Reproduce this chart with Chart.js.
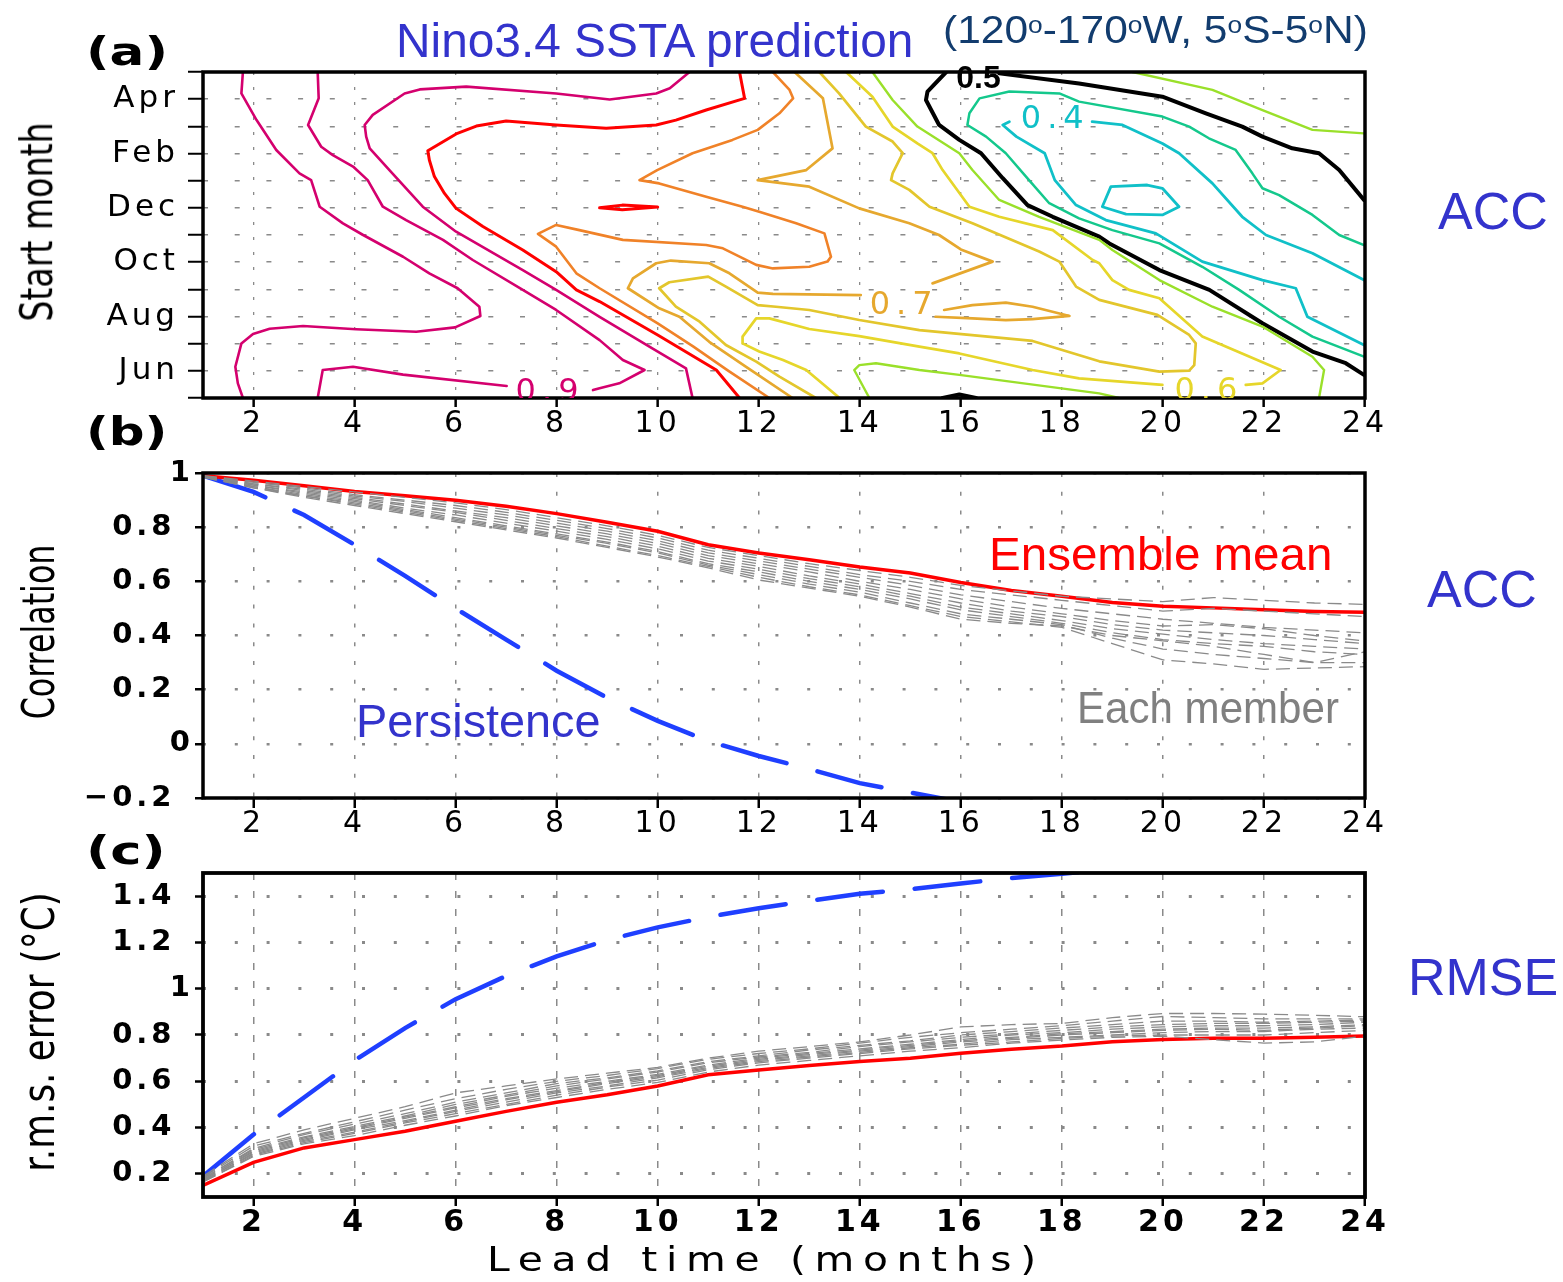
<!DOCTYPE html>
<html>
<head>
<meta charset="utf-8">
<title>Nino3.4 SSTA prediction</title>
<script src="https://cdn.jsdelivr.net/npm/chart.js@4.4.1/dist/chart.umd.min.js"></script>
<style>
html,body{margin:0;padding:0;background:#fff;}
#wrap{position:relative;width:1563px;height:1282px;overflow:hidden;background:#fff;}
#wrap canvas{position:absolute;left:0;}
.t{position:absolute;white-space:nowrap;line-height:1;margin:0;}
.lib{font-family:"Liberation Sans",Arial,sans-serif;}
.dv{font-family:"DejaVu Sans",sans-serif;}
.h{transform-origin:0 0;}
.r{transform-origin:50% 50%;}
.sup{font-size:0.62em;vertical-align:0.42em;line-height:0;}
</style>
</head>
<body>
<div id="wrap">
  <canvas id="cA" width="1563" height="450" style="top:0"></canvas>
  <canvas id="cB" width="1563" height="400" style="top:450px"></canvas>
  <canvas id="cC" width="1563" height="432" style="top:850px"></canvas>

  <div class="t dv h" data-w="82" style="left:86px;top:32px;font-size:39px;font-weight:bold;">(a)</div>
  <div class="t dv h" data-w="82" style="left:86px;top:412px;font-size:39px;font-weight:bold;">(b)</div>
  <div class="t dv h" data-w="80" style="left:86px;top:831px;font-size:39px;font-weight:bold;">(c)</div>

  <div class="t lib h" data-w="517" style="left:396px;top:17px;font-size:48px;color:#3333cc;">Nino3.4 SSTA prediction</div>
  <div class="t lib h" data-w="425" style="left:943px;top:10px;font-size:39px;color:#123c6e;">(120<span class="sup">o</span>-170<span class="sup">o</span>W, 5<span class="sup">o</span>S-5<span class="sup">o</span>N)</div>

  <div class="t lib h" data-w="110" style="left:1438px;top:185px;font-size:52px;color:#3333cc;">ACC</div>
  <div class="t lib h" data-w="110" style="left:1427px;top:563px;font-size:52px;color:#3333cc;">ACC</div>
  <div class="t lib h" data-w="150" style="left:1408px;top:951px;font-size:52px;color:#3333cc;">RMSE</div>

  <div class="t lib h" data-w="343" style="left:989px;top:531px;font-size:46px;color:#ff0000;">Ensemble mean</div>
  <div class="t lib h" data-w="245" style="left:356px;top:697px;font-size:47px;color:#3333cc;">Persistence</div>
  <div class="t lib h" data-w="262" style="left:1077px;top:686px;font-size:44px;color:#808080;">Each member</div>

  <div class="t dv r" data-cx="37" data-cy="222" data-len="199" style="font-size:44px;color:#000;">Start month</div>
  <div class="t dv r" data-cx="39" data-cy="632" data-len="175" style="font-size:44px;color:#000;">Correlation</div>
  <div class="t dv r" data-cx="38" data-cy="1032" data-len="279" style="font-size:44px;color:#000;">r.m.s. error (°C)</div>
  <div class="t dv h" data-w="558" style="left:487px;top:1243px;font-size:33px;letter-spacing:7px;color:#000;">Lead time (months)</div>
</div>

<script>
// ---------------- axes / categories ----------------
const leads = [1,2,3,4,5,6,7,8,9,10,11,12,13,14,15,16,17,18,19,20,21,22,23,24];
const leadTicks = [2,4,6,8,10,12,14,16,18,20,22,24];
const monthNames = ['May','Jun','Jul','Aug','Sep','Oct','Nov','Dec','Jan','Feb','Mar','Apr','May'];
const monthTicks = [0,1,2,3,4,5,6,7,8,9,10,11,12];
const accTicks = [-0.2,0,0.2,0.4,0.6,0.8,1];
const rmseTicks = [0.2,0.4,0.6,0.8,1,1.2,1.4];

// ---------------- panel (b): ACC ----------------
const accEnsemble = [0.99,0.973,0.953,0.932,0.916,0.899,0.877,0.85,0.818,0.785,0.735,0.705,0.68,0.653,0.631,0.596,0.566,0.545,0.522,0.508,0.502,0.495,0.489,0.486];
const accPersistence = [0.99,0.93,0.845,0.735,0.62,0.5,0.385,0.27,0.17,0.085,0.01,-0.045,-0.093,-0.145,-0.18,-0.215,null,null,null,null,null,null,null,null];
const accMembers = [
  [0.99,0.97,0.95,0.93,0.91,0.89,0.865,0.835,0.805,0.77,0.725,0.695,0.665,0.64,0.615,0.585,0.565,0.545,0.535,0.525,0.54,0.53,0.52,0.515],
  [0.99,0.965,0.945,0.92,0.9,0.88,0.855,0.825,0.795,0.76,0.715,0.685,0.655,0.625,0.6,0.57,0.55,0.53,0.51,0.49,0.5,0.49,0.48,0.47],
  [0.988,0.96,0.94,0.915,0.895,0.87,0.845,0.815,0.785,0.75,0.705,0.675,0.645,0.615,0.585,0.55,0.525,0.5,0.48,0.46,0.445,0.43,0.42,0.41],
  [0.988,0.96,0.935,0.91,0.885,0.86,0.835,0.805,0.775,0.74,0.695,0.665,0.635,0.6,0.57,0.535,0.505,0.48,0.455,0.435,0.44,0.425,0.4,0.38],
  [0.987,0.955,0.93,0.905,0.88,0.855,0.825,0.795,0.765,0.73,0.685,0.655,0.62,0.59,0.555,0.52,0.49,0.47,0.44,0.42,0.41,0.4,0.385,0.37],
  [0.987,0.955,0.925,0.9,0.87,0.845,0.815,0.785,0.755,0.72,0.675,0.645,0.61,0.58,0.545,0.505,0.48,0.455,0.425,0.405,0.385,0.37,0.36,0.35],
  [0.986,0.95,0.92,0.895,0.865,0.835,0.805,0.775,0.745,0.71,0.665,0.635,0.6,0.57,0.535,0.495,0.47,0.445,0.41,0.385,0.37,0.36,0.34,0.33],
  [0.986,0.95,0.915,0.89,0.86,0.83,0.8,0.77,0.74,0.705,0.66,0.625,0.59,0.56,0.52,0.48,0.46,0.44,0.39,0.35,0.33,0.315,0.3,0.3],
  [0.985,0.945,0.915,0.885,0.855,0.825,0.795,0.765,0.73,0.695,0.655,0.615,0.58,0.55,0.51,0.47,0.45,0.43,0.37,0.31,0.295,0.275,0.28,0.285],
  [0.985,0.945,0.91,0.88,0.85,0.82,0.79,0.76,0.725,0.69,0.65,0.605,0.575,0.545,0.505,0.46,0.445,0.435,0.4,0.38,0.36,0.33,0.3,0.34]
];

// ---------------- panel (c): RMSE ----------------
const rmseEnsemble = [0.15,0.25,0.312,0.348,0.384,0.427,0.47,0.509,0.542,0.58,0.628,0.649,0.668,0.685,0.7,0.721,0.738,0.752,0.771,0.781,0.786,0.786,0.79,0.796];
const rmsePersistence = [0.19,0.37,0.53,0.69,0.83,0.955,1.055,1.14,1.21,1.265,1.31,1.348,1.38,1.41,1.43,1.455,1.478,1.497,1.515,null,null,null,null,null];
const rmseMembers = [
  [0.19,0.33,0.39,0.44,0.49,0.55,0.58,0.61,0.635,0.66,0.7,0.73,0.75,0.77,0.8,0.835,0.845,0.85,0.875,0.893,0.893,0.89,0.885,0.879],
  [0.185,0.32,0.375,0.425,0.475,0.525,0.565,0.6,0.625,0.655,0.695,0.72,0.74,0.765,0.79,0.81,0.825,0.84,0.86,0.88,0.875,0.87,0.87,0.87],
  [0.18,0.31,0.37,0.415,0.46,0.51,0.55,0.59,0.615,0.645,0.685,0.71,0.735,0.755,0.775,0.8,0.815,0.83,0.845,0.86,0.86,0.855,0.86,0.865],
  [0.18,0.305,0.36,0.405,0.45,0.5,0.54,0.58,0.61,0.64,0.68,0.705,0.725,0.75,0.77,0.79,0.805,0.82,0.835,0.845,0.85,0.85,0.855,0.86],
  [0.175,0.3,0.355,0.4,0.445,0.49,0.535,0.57,0.6,0.63,0.67,0.7,0.72,0.74,0.76,0.78,0.8,0.81,0.825,0.835,0.84,0.84,0.845,0.855],
  [0.175,0.295,0.35,0.395,0.44,0.485,0.525,0.56,0.595,0.625,0.665,0.695,0.715,0.735,0.755,0.775,0.79,0.805,0.815,0.825,0.83,0.83,0.835,0.845],
  [0.17,0.29,0.345,0.39,0.43,0.475,0.52,0.555,0.59,0.62,0.66,0.69,0.71,0.73,0.75,0.77,0.785,0.8,0.81,0.82,0.825,0.82,0.83,0.84],
  [0.17,0.285,0.34,0.38,0.425,0.47,0.51,0.55,0.58,0.615,0.655,0.685,0.705,0.725,0.745,0.76,0.78,0.79,0.8,0.81,0.815,0.815,0.825,0.83],
  [0.165,0.28,0.335,0.375,0.42,0.46,0.5,0.54,0.575,0.605,0.65,0.68,0.7,0.72,0.74,0.755,0.77,0.785,0.795,0.8,0.8,0.8,0.81,0.82],
  [0.165,0.275,0.33,0.365,0.41,0.45,0.495,0.53,0.565,0.595,0.64,0.67,0.69,0.71,0.73,0.745,0.765,0.778,0.79,0.795,0.78,0.765,0.77,0.795]
];

// ---------------- panel (a): ACC contours, [lead, start-month index] (0 = May ... 12 = May) ----------------
const c095 = [[1.79,12],[1.76,11.21],[2.06,10.23],[2.45,9.13],[2.91,8.27],[3.14,8.02],[3.31,7.04],[3.77,6.43],[4.17,6.0],[4.96,5.2],[5.48,4.59],[6.04,4.04],[6.47,3.36],[6.49,3.02],[5.99,2.6],[5.22,2.44],[4.03,2.53],[2.98,2.65],[2.32,2.55],[1.99,2.36],[1.76,2.01],[1.64,1.15],[1.69,0.54],[1.79,0]];
const c090a = [[3.27,12],[3.29,11.03],[3.08,10.05],[3.34,9.25],[3.57,8.94],[3.97,8.52],[4.26,8.02],[4.56,7.04],[5.02,6.55],[5.75,5.82],[6.34,5.08],[7.33,3.98],[7.99,3.24],[8.85,2.13],[9.31,1.4],[9.74,1.03],[9.24,0.54],[8.85,0.36],[8.72,0.29]];
const c090b = [[7.01,0.44],[4.96,0.86],[3.97,1.15],[3.37,1.03],[3.27,0]];
const c085 = [[10.63,12],[10.24,11.4],[9.97,11.21],[9.05,10.99],[7.99,11.21],[6.21,11.46],[5.29,11.36],[4.99,11.21],[4.36,10.42],[4.2,10.05],[4.23,9.62],[4.3,9.19],[4.69,8.39],[5.35,7.04],[6.01,6.12],[7.33,4.71],[7.99,3.98],[8.85,2.99],[9.91,1.81],[10.56,1.09],[10.69,0]];
const c080a = [[11.62,12],[11.72,11.03],[10.96,10.6],[10.36,10.23],[9.97,10.05],[8.98,9.93],[7.99,10.05],[7.0,10.2],[6.41,10.01],[6.01,9.72],[5.45,9.1],[5.48,8.76],[5.58,8.15],[5.78,7.53],[6.01,6.98],[6.54,6.31],[7.33,5.45],[7.99,4.65],[8.39,3.98],[8.85,3.55],[10.0,2.32],[11.16,1.03],[11.62,0]];
const c080b = [[8.85,7.0],[9.3,6.93],[10.0,7.03],[9.3,7.1],[8.85,7.0]];
const c075 = [[12.28,12],[12.61,11.34],[12.68,11.03],[12.41,10.48],[11.98,9.87],[11.48,9.5],[10.69,9.01],[9.99,8.39],[9.64,8.02],[10.03,7.9],[10.96,7.41],[11.68,7.04],[12.01,6.86],[12.74,6.43],[13.3,6.06],[13.43,5.2],[13.36,5.02],[13.0,4.83],[12.28,4.77],[11.95,4.9],[11.29,5.51],[10.96,5.63],[9.31,5.82],[8.45,6.18],[7.99,6.37],[7.63,6.04],[7.99,5.57],[8.39,4.59],[8.85,4.04],[10.0,2.75],[10.7,1.9],[11.4,1.0],[12.21,0]];
const c070a = [[12.71,12],[13.27,11.03],[13.46,9.19],[12.94,8.39],[11.98,8.02],[13.0,7.78],[13.99,6.98],[14.98,6.43],[15.57,6.0],[16.0,5.47],[16.63,5.02],[15.44,4.22]];
const c070b = [[14.02,3.79],[12.28,3.83],[11.98,3.88],[11.42,4.59],[11.02,4.96],[10.26,5.06],[9.97,4.96],[9.51,4.4],[9.41,4.04],[10.03,3.3],[10.43,2.99],[11.02,2.07],[11.75,1.15],[12.67,0]];
const c070c = [[15.67,3.24],[16.23,3.42],[16.89,3.51],[17.42,3.36],[18.15,3.02],[17.42,2.9],[16.89,2.87],[16.23,2.93],[15.5,2.99]];
const c065 = [[13.2,12],[13.59,11.21],[14.12,9.99],[14.65,9.44],[14.85,9.01],[14.65,8.27],[14.62,8.02],[14.98,7.66],[15.38,7.04],[16.23,6.43],[17.55,5.39],[17.95,5.02],[18.28,4.1],[18.74,3.61],[19.89,3.06],[20.52,2.32],[20.65,2.01],[20.62,1.21],[20.52,1.01],[19.93,0.97],[18.74,1.35],[17.42,2.1],[15.18,2.5],[13.99,2.87],[13.0,3.24],[12.34,3.36],[11.98,3.42],[11.35,4.1],[11.0,4.47],[10.23,4.26],[10.03,4.04],[10.36,3.36],[10.83,2.81],[11.35,1.95],[11.95,1.34],[12.41,0.79],[13.13,0]];
const c060a = [[13.73,12],[14.25,11.09],[14.65,9.99],[15.14,9.37],[15.44,9.01],[15.64,8.39],[16.17,7.04],[16.76,6.67],[17.82,6.18],[18.61,5.08],[18.74,4.96],[19.0,4.34],[19.33,3.98],[19.93,3.67],[20.78,2.26],[22.33,1.03],[21.97,0.54],[21.64,0.48]];
const c060b = [[19.99,0.48],[18.34,0.72],[17.42,1.03],[15.97,1.64],[15.18,1.89],[13.99,2.28],[13.0,2.54],[12.21,2.93],[11.95,2.93],[11.68,2.26],[11.68,2.01],[12.01,1.71],[12.48,1.4],[12.94,1.03],[13.6,0]];
const c055a = [[14.25,12],[14.65,10.97],[15.14,9.99],[15.97,9.01],[16.23,8.39],[16.76,7.29],[17.55,6.67],[18.74,5.82],[19.0,5.45],[19.93,4.34],[20.98,3.36],[21.97,2.63],[22.96,1.52],[23.19,1.03],[23.09,0]];
const c055b = [[19.4,12],[20.98,11.34],[21.97,10.6],[22.96,9.87],[23.98,9.74]];
const c055c = [[14.19,0],[13.89,1.03],[13.99,1.21],[14.32,1.28],[15.18,1.03],[15.97,0.85],[18.74,0.17],[19.13,0]];
const c050a = [[23.98,7.29],[23.49,8.39],[23.09,9.01],[22.56,9.19],[21.97,9.62],[21.57,9.99],[20.85,10.48],[19.99,11.09],[18.34,11.58],[16.76,11.95]];
const c050b = [[15.71,12],[15.34,11.28],[15.31,10.97],[15.57,10.05],[15.97,9.5],[16.4,9.01],[16.83,8.09],[17.32,7.1],[17.82,6.67],[18.74,5.94],[18.94,5.69],[19.93,4.71],[20.92,3.98],[21.97,2.75],[22.96,1.71],[23.62,1.28],[23.98,0.85]];
const c050c = [[15.64,0],[15.97,0.13],[16.3,0]];
const c045 = [[23.98,5.63],[23.49,6.0],[22.96,6.74],[22.3,7.47],[21.97,7.72],[21.77,8.27],[21.44,9.13],[20.91,9.56],[20.52,9.99],[19.99,10.36],[18.34,10.91],[17.95,11.21],[16.96,11.28],[16.37,11.03],[16.17,10.48],[16.13,10.05],[16.5,9.62],[16.89,9.01],[17.35,8.02],[17.75,7.17],[18.34,6.61],[19.0,6.18],[19.93,5.69],[20.78,4.83],[21.51,3.98],[22.3,2.99],[22.96,2.26],[23.98,1.52]];
const c040a = [[23.98,4.34],[22.96,5.33],[22.04,6.0],[21.57,6.67],[20.98,7.9],[20.32,9.01],[19.99,9.37],[19.2,10.05],[18.6,10.17]];
const c040b = [[16.96,10.17],[16.83,10.05],[17.1,9.62],[17.66,9.01],[17.86,8.02],[18.28,7.1],[18.87,6.55],[19.86,6.06],[20.78,5.02],[21.97,4.34],[22.63,4.04],[22.86,2.99],[23.98,1.95]];
const c040c = [[18.97,7.78],[19.69,7.84],[19.99,7.72],[20.32,7.04],[19.99,6.74],[19.27,6.77],[18.8,7.04],[18.97,7.78]];

// contour labels: text, lead, month (baseline)
const contourLabelText = ['0.9','0.7','0.6','0.4','0.5'];
const contourLabelLead = [7.81,14.82,20.85,17.81,16.35];
const contourLabelMonth = [-0.11,3.11,-0.07,9.93,11.4];

// ---------------- styles ----------------
const COL = {c095:'#d4006e',c090:'#d4006e',c085:'#d4006e',c080:'#ff0000',c075:'#f08228',c070:'#e6a82e',c065:'#e3c62c',c060:'#e6d62a',c055:'#9ae02a',c050:'#000000',c045:'#14c88c',c040:'#10c0c8'};
const contourLines = [
  [c095,COL.c095,2.6],[c090a,COL.c090,2.6],[c090b,COL.c090,2.6],[c085,COL.c085,2.6],
  [c080a,COL.c080,3],[c080b,COL.c080,3],[c075,COL.c075,2.6],
  [c070a,COL.c070,2.7],[c070b,COL.c070,2.7],[c070c,COL.c070,2.7],
  [c065,COL.c065,2.7],[c060a,COL.c060,2.7],[c060b,COL.c060,2.7],
  [c055a,COL.c055,2.4],[c055b,COL.c055,2.4],[c055c,COL.c055,2.4],
  [c050a,COL.c050,4],[c050b,COL.c050,4],[c050c,COL.c050,4],
  [c045,COL.c045,2.5],[c040a,COL.c040,2.8],[c040b,COL.c040,2.8],[c040c,COL.c040,2.8]
];
const labelStyle = [
  {color:COL.c090,font:'32px "DejaVu Sans"',ls:6,clip:true},
  {color:COL.c070,font:'32px "DejaVu Sans"',ls:6,clip:false},
  {color:COL.c060,font:'32px "DejaVu Sans"',ls:6,clip:true},
  {color:COL.c040,font:'32px "DejaVu Sans"',ls:6,clip:false},
  {color:'#000',font:'bold 32px "Liberation Sans"',ls:0,clip:false}
];

// ---------------- plugins ----------------
const spacing = {id:'spacing', beforeDraw(c, a, o){ c.ctx.letterSpacing = (o.px || 0) + 'px'; }};
const frame = {id:'frame', afterDatasetsDraw(c, a, o){
  const {ctx, chartArea:{left,top,width,height}} = c;
  ctx.save(); ctx.strokeStyle = '#000'; ctx.lineWidth = o.w || 3.5; ctx.lineJoin = 'miter';
  ctx.strokeRect(left, top, width, height); ctx.restore();
}};
const clabels = {id:'clabels', afterDatasetsDraw(c){
  const {ctx, chartArea, scales:{x, y}} = c;
  contourLabelText.forEach((t, i) => {
    const st = labelStyle[i];
    ctx.save();
    if (st.clip) { ctx.beginPath(); ctx.rect(chartArea.left, chartArea.top, chartArea.width, chartArea.height); ctx.clip(); }
    ctx.letterSpacing = st.ls + 'px';
    ctx.font = st.font; ctx.fillStyle = st.color; ctx.textAlign = 'center'; ctx.textBaseline = 'alphabetic';
    ctx.fillText(t, x.getPixelForValue(contourLabelLead[i]) + st.ls / 2, y.getPixelForValue(contourLabelMonth[i]));
    ctx.restore();
  });
}};

function xy(arr){ return arr.map((v, i) => ({x: leads[i], y: v})); }
function fmt(v){
  const r = Math.round(v * 10) / 10;
  if (Math.abs(r - Math.round(r)) < 1e-9) return String(Math.round(r));
  return (r < 0 ? '\u2212' : '') + Math.abs(r).toFixed(1) + '\u2002';
}
const base = {responsive:false, animation:false, devicePixelRatio:1, events:[]};
const GRID = '#8a8a8a';

// ---------------- panel (a) ----------------
new Chart(document.getElementById('cA'), {
  type:'line',
  data:{datasets: contourLines.map(l => ({
    data: l[0].map(p => ({x:p[0], y:p[1]})), borderColor:l[1], borderWidth:l[2],
    pointRadius:0, tension:0, fill:false, borderJoinStyle:'round', borderCapStyle:'round'
  }))},
  options:Object.assign({}, base, {
    layout:{padding:{left:0, top:72, right:198, bottom:0}},
    plugins:{legend:{display:false}, tooltip:{enabled:false}, frame:{w:3.5}, spacing:{px:4}},
    scales:{
      x:{type:'linear', min:1, max:24,
        afterBuildTicks:s => { s.ticks = leadTicks.map(v => ({value:v})); },
        afterFit:s => { s.height = 52; },
        grid:{color:GRID, lineWidth:1.3, tickColor:'#000', tickWidth:2.5, tickLength:9},
        border:{display:false, dash:[3,12]},
        ticks:{color:'#000', font:{family:'DejaVu Sans', size:30, lineHeight:1}, padding:2, maxRotation:0, autoSkip:false}},
      y:{type:'linear', min:0, max:12,
        afterBuildTicks:s => { s.ticks = monthTicks.map(v => ({value:v})); },
        afterFit:s => { s.width = 203; },
        grid:{color:GRID, lineWidth:1.5, tickColor:'#000', tickWidth:2, tickLength:15},
        border:{display:false, dash:[5,26.7]},
        ticks:{color:'#000', font:{family:'DejaVu Sans', size:31, lineHeight:1}, padding:9, autoSkip:false,
          callback:v => (v % 2 === 1 ? monthNames[v] : '')}}
    }
  }),
  plugins:[spacing, frame, clabels]
});

// ---------------- panel (b) ----------------
new Chart(document.getElementById('cB'), {
  type:'line',
  data:{datasets: [
    ...accMembers.map(m => ({data:xy(m), borderColor:'#8a8a8a', borderWidth:1.3, borderDash:[14,7], pointRadius:0, tension:0, fill:false})),
    {data:xy(accEnsemble), borderColor:'#ff0000', borderWidth:3.5, pointRadius:0, tension:0, fill:false},
    {data:xy(accPersistence), borderColor:'#1f3fff', borderWidth:4.5, borderDash:[66,32], borderCapStyle:'round', pointRadius:0, tension:0, fill:false}
  ]},
  options:Object.assign({}, base, {
    layout:{padding:{left:0, top:23, right:198, bottom:0}},
    plugins:{legend:{display:false}, tooltip:{enabled:false}, frame:{w:3.5}, spacing:{px:4}},
    scales:{
      x:{type:'linear', min:1, max:24,
        afterBuildTicks:s => { s.ticks = leadTicks.map(v => ({value:v})); },
        afterFit:s => { s.height = 52; },
        grid:{color:GRID, lineWidth:1.5, tickColor:'#000', tickWidth:2.5, tickLength:10},
        border:{display:false, dash:[4,14.8]},
        ticks:{color:'#000', font:{family:'DejaVu Sans', size:30, lineHeight:1}, padding:1, maxRotation:0, autoSkip:false}},
      y:{type:'linear', min:-0.2, max:1,
        afterBuildTicks:s => { s.ticks = accTicks.map(v => ({value:v})); },
        afterFit:s => { s.width = 203; },
        grid:{color:GRID, lineWidth:2.5, tickColor:'#000', tickWidth:2.5, tickLength:8},
        border:{display:false, dash:[3,28.8]},
        ticks:{color:'#000', font:{family:'DejaVu Sans', size:29, weight:'bold', lineHeight:1}, padding:1, autoSkip:false, callback:v => fmt(v)}}
    }
  }),
  plugins:[spacing, frame]
});

// ---------------- panel (c) ----------------
new Chart(document.getElementById('cC'), {
  type:'line',
  data:{datasets: [
    ...rmseMembers.map(m => ({data:xy(m), borderColor:'#8a8a8a', borderWidth:1.3, borderDash:[14,7], pointRadius:0, tension:0, fill:false})),
    {data:xy(rmseEnsemble), borderColor:'#ff0000', borderWidth:3.5, pointRadius:0, tension:0, fill:false},
    {data:xy(rmsePersistence), borderColor:'#1f3fff', borderWidth:4.5, borderDash:[66,32], borderCapStyle:'round', pointRadius:0, tension:0, fill:false}
  ]},
  options:Object.assign({}, base, {
    layout:{padding:{left:0, top:23, right:198, bottom:33}},
    plugins:{legend:{display:false}, tooltip:{enabled:false}, frame:{w:3.8}, spacing:{px:4}},
    scales:{
      x:{type:'linear', min:1, max:24,
        afterBuildTicks:s => { s.ticks = leadTicks.map(v => ({value:v})); },
        afterFit:s => { s.height = 52; },
        grid:{color:GRID, lineWidth:1.5, tickColor:'#000', tickWidth:2.5, tickLength:9},
        border:{display:false, dash:[7,11]},
        ticks:{color:'#000', font:{family:'DejaVu Sans', size:30, weight:'bold', lineHeight:1}, padding:2, maxRotation:0, autoSkip:false}},
      y:{type:'linear', min:0.1, max:1.5,
        afterBuildTicks:s => { s.ticks = rmseTicks.map(v => ({value:v})); },
        afterFit:s => { s.width = 203; },
        grid:{color:GRID, lineWidth:3, tickColor:'#000', tickWidth:2.5, tickLength:8},
        border:{display:false, dash:[3,28.8]},
        ticks:{color:'#000', font:{family:'DejaVu Sans', size:29, weight:'bold', lineHeight:1}, padding:1, autoSkip:false, callback:v => fmt(v)}}
    }
  }),
  plugins:[spacing, frame]
});

// ---------------- fit HTML text boxes ----------------
function fitTexts(){
  document.querySelectorAll('.t').forEach(el => {
    el.style.transform = 'none';
    const w = el.offsetWidth, h = el.offsetHeight;
    if (el.classList.contains('r')) {
      const s = (+el.dataset.len) / w;
      el.style.left = (+el.dataset.cx - w / 2) + 'px';
      el.style.top = (+el.dataset.cy - h / 2) + 'px';
      el.style.transform = 'rotate(-90deg) scaleX(' + s + ')';
    } else {
      el.style.transform = 'scaleX(' + ((+el.dataset.w) / w) + ')';
    }
  });
}
fitTexts();
if (document.fonts && document.fonts.ready) document.fonts.ready.then(fitTexts);
</script>
</body>
</html>
